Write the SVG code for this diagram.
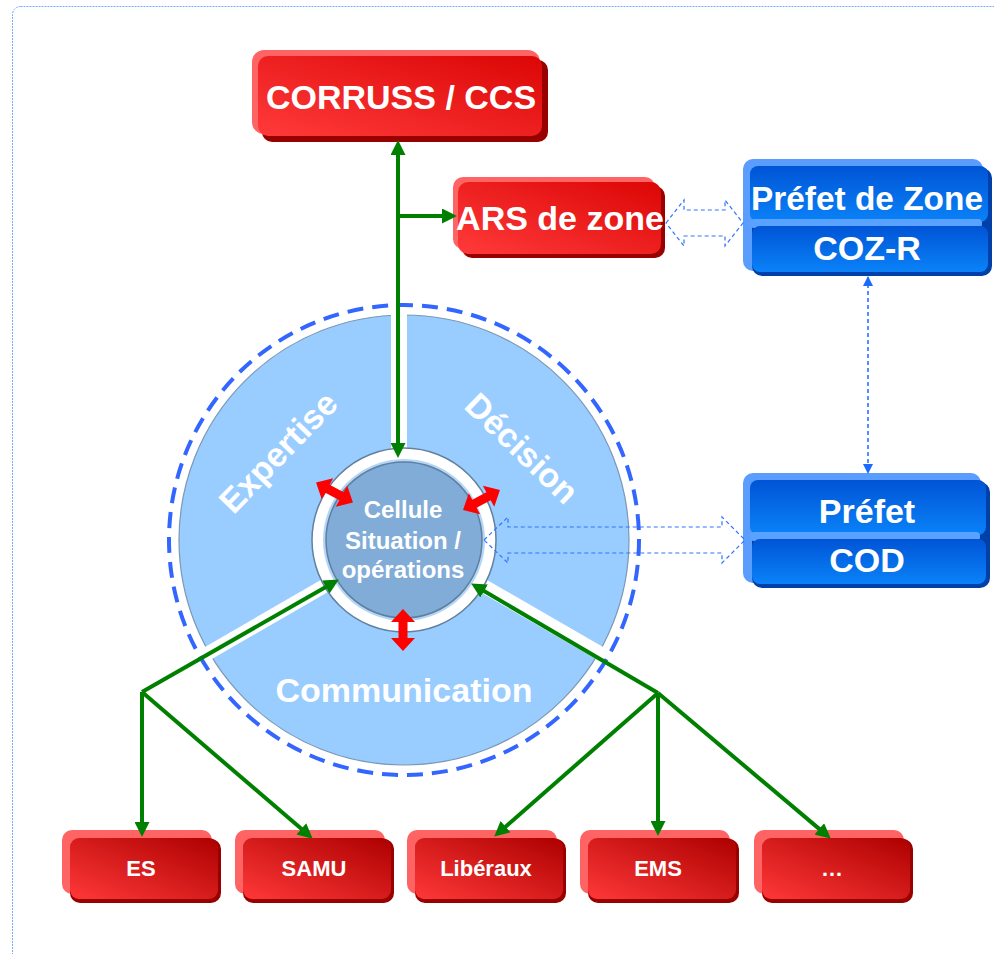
<svg xmlns="http://www.w3.org/2000/svg" width="994" height="954" viewBox="0 0 994 954">
<style>
.t{font-family:"Liberation Sans",Arial,sans-serif;font-weight:bold;fill:#fff;text-anchor:middle}
.big{font-size:34px}
.mid{font-size:24px}
.sm{font-size:22px}
.back{fill:#ff6464}
.dark{fill:#990000}
.bback{fill:#5b9cff}
.bdark{fill:#0040a8}
.band{fill:#5aa2ff}
.g{fill:none;stroke:#008000;stroke-width:4}
.hol{fill:none;stroke:#2f74ff;stroke-width:1.2;stroke-dasharray:4 3}
</style>
<defs>
<linearGradient id="rg1" x1="0" y1="1" x2="1" y2="0">
<stop offset="0" stop-color="#ff3a3a"/><stop offset="1" stop-color="#dc0606"/>
</linearGradient>
<linearGradient id="rg2" x1="0" y1="1" x2="1" y2="0">
<stop offset="0" stop-color="#ff3838"/><stop offset="1" stop-color="#ad0000"/>
</linearGradient>
<linearGradient id="bg" x1="0" y1="0" x2="0" y2="1">
<stop offset="0" stop-color="#0054d6"/><stop offset="1" stop-color="#0a82f8"/>
</linearGradient>
<marker id="ga" viewBox="0 0 15 15" refX="8" refY="7.5" markerWidth="15" markerHeight="15" markerUnits="userSpaceOnUse" orient="auto-start-reverse">
<path d="M0,0 L15,7.5 L0,15 Z" fill="#008000"/>
</marker>
<marker id="ba" viewBox="0 0 10 10" refX="9" refY="5" markerWidth="10" markerHeight="10" markerUnits="userSpaceOnUse" orient="auto-start-reverse">
<path d="M0,0 L10,5 L0,10 Z" fill="#1a6aff"/>
</marker>
<path id="rarrow" d="M-21,0 L-8,-12 L-8,-4.5 L8,-4.5 L8,-12 L21,0 L8,12 L8,4.5 L-8,4.5 L-8,12 Z" fill="#ff0000"/>
</defs>

<rect x="12.5" y="6.5" width="1000" height="1000" rx="8" fill="none" stroke="#7aa9f7" stroke-width="1" stroke-dasharray="2 1"/>

<g id="cycle">
<circle cx="404" cy="540" r="225" fill="#99ccff" stroke="#7b98b6" stroke-width="1.2"/>
<line x1="399" y1="540" x2="399" y2="305" stroke="#fff" stroke-width="16"/>
<line x1="404" y1="540" x2="195" y2="660.7" stroke="#fff" stroke-width="14"/>
<line x1="404" y1="540" x2="613" y2="660.7" stroke="#fff" stroke-width="14"/>
<circle cx="404" cy="540" r="235" fill="none" stroke="#3366ff" stroke-width="4" stroke-dasharray="16 9"/>
<text class="t big" transform="translate(278,452) rotate(-46)" x="0" y="12">Expertise</text>
<text class="t big" transform="translate(522,448) rotate(44)" x="0" y="12">Décision</text>
<text class="t big" x="404" y="702">Communication</text>
</g>

<g id="cellule">
<circle cx="404" cy="540" r="92" fill="#fff" stroke="#62819f" stroke-width="1.5"/>
<circle cx="404" cy="540" r="81" fill="#b4d5f5"/>
<circle cx="404" cy="540" r="78" fill="#80acd7" stroke="#5d7fa0" stroke-width="1.5"/>
<text class="t mid" x="403" y="518">Cellule</text>
<text class="t mid" x="403" y="549">Situation /</text>
<text class="t mid" x="403" y="578">opérations</text>
</g>

<g id="corruss">
<rect class="back" x="252" y="50" width="288" height="84" rx="12"/>
<rect class="dark" x="262" y="60" width="286" height="82" rx="10"/>
<rect x="258" y="56" width="284" height="80" rx="10" fill="url(#rg1)"/>
<text class="t big" x="401" y="109">CORRUSS / CCS</text>
</g>

<g id="ars">
<rect class="back" x="453" y="177" width="202" height="72" rx="10"/>
<rect class="dark" x="462" y="186" width="203" height="72" rx="10"/>
<rect x="458" y="182" width="203" height="72" rx="10" fill="url(#rg1)"/>
<text class="t big" x="560" y="230">ARS de zone</text>
</g>

<g id="prefet-zone">
<rect class="bback" x="743" y="159" width="240" height="112" rx="10"/>
<rect class="bdark" x="752" y="168" width="240" height="108" rx="10"/>
<rect x="750" y="166" width="238" height="56" rx="8" fill="url(#bg)"/>
<rect class="band" x="750" y="219" width="232" height="9" rx="4"/>
<rect x="752" y="226" width="236" height="46" rx="8" fill="url(#bg)"/>
<text class="t big" x="867" y="210" textLength="232" lengthAdjust="spacingAndGlyphs">Préfet de Zone</text>
<text class="t big" x="867" y="260">COZ-R</text>
</g>

<g id="prefet">
<rect class="bback" x="743" y="473" width="238" height="110" rx="10"/>
<rect class="bdark" x="752" y="482" width="238" height="106" rx="10"/>
<rect x="750" y="480" width="236" height="55" rx="8" fill="url(#bg)"/>
<rect class="band" x="750" y="532" width="230" height="9" rx="4"/>
<rect x="752" y="539" width="234" height="45" rx="8" fill="url(#bg)"/>
<text class="t big" x="867" y="523">Préfet</text>
<text class="t big" x="867" y="572">COD</text>
</g>

<g id="es">
<rect class="back" x="62" y="830" width="150" height="64" rx="10"/>
<rect class="dark" x="70" y="839" width="151" height="64" rx="10"/>
<rect x="70" y="838" width="148" height="61" rx="9" fill="url(#rg2)"/>
<text class="t sm" x="141" y="876">ES</text>
</g>
<g id="samu">
<rect class="back" x="235" y="830" width="150" height="64" rx="10"/>
<rect class="dark" x="243" y="839" width="151" height="64" rx="10"/>
<rect x="243" y="838" width="148" height="61" rx="9" fill="url(#rg2)"/>
<text class="t sm" x="314" y="876">SAMU</text>
</g>
<g id="liberaux">
<rect class="back" x="407" y="830" width="150" height="64" rx="10"/>
<rect class="dark" x="415" y="839" width="151" height="64" rx="10"/>
<rect x="415" y="838" width="148" height="61" rx="9" fill="url(#rg2)"/>
<text class="t sm" x="486" y="876">Libéraux</text>
</g>
<g id="ems">
<rect class="back" x="580" y="830" width="150" height="64" rx="10"/>
<rect class="dark" x="588" y="839" width="151" height="64" rx="10"/>
<rect x="588" y="838" width="148" height="61" rx="9" fill="url(#rg2)"/>
<text class="t sm" x="658" y="876">EMS</text>
</g>
<g id="etc">
<rect class="back" x="754" y="830" width="150" height="64" rx="10"/>
<rect class="dark" x="762" y="839" width="151" height="64" rx="10"/>
<rect x="762" y="838" width="148" height="61" rx="9" fill="url(#rg2)"/>
<text class="t sm" x="832" y="876">…</text>
</g>

<g id="connectors">
<path class="g" d="M398,147 L398,451" marker-start="url(#ga)" marker-end="url(#ga)"/>
<path class="g" d="M398,216 L450,216" marker-end="url(#ga)"/>
<path class="g" d="M142,692 L332.8,583" marker-end="url(#ga)"/>
<path class="g" d="M142,692 L142,830" marker-end="url(#ga)"/>
<path class="g" d="M142,692 L307.4,834.1" marker-end="url(#ga)"/>
<path class="g" d="M658,693 L477.2,587" marker-end="url(#ga)"/>
<path class="g" d="M658,693 L499.5,832" marker-end="url(#ga)"/>
<path class="g" d="M658,693 L658,829" marker-end="url(#ga)"/>
<path class="g" d="M658,693 L825.4,834.1" marker-end="url(#ga)"/>
<path class="hol" d="M666,223 L684,200 L684,210 L725,210 L725,200 L743,223 L725,246 L725,236 L684,236 L684,246 Z"/>
<path class="hol" d="M484,540 L508,517 L508,527 L722,527 L722,517 L745,540 L722,563 L722,553 L508,553 L508,563 Z"/>
<path d="M868,277 L868,473" fill="none" stroke="#1a6aff" stroke-width="1.5" stroke-dasharray="4 3" marker-start="url(#ba)" marker-end="url(#ba)"/>
<use href="#rarrow" transform="translate(334.5,492.5) rotate(28.5)"/>
<use href="#rarrow" transform="translate(481.5,500) rotate(-28.4)"/>
<use href="#rarrow" transform="translate(403,630) rotate(90)"/>
</g>
</svg>
